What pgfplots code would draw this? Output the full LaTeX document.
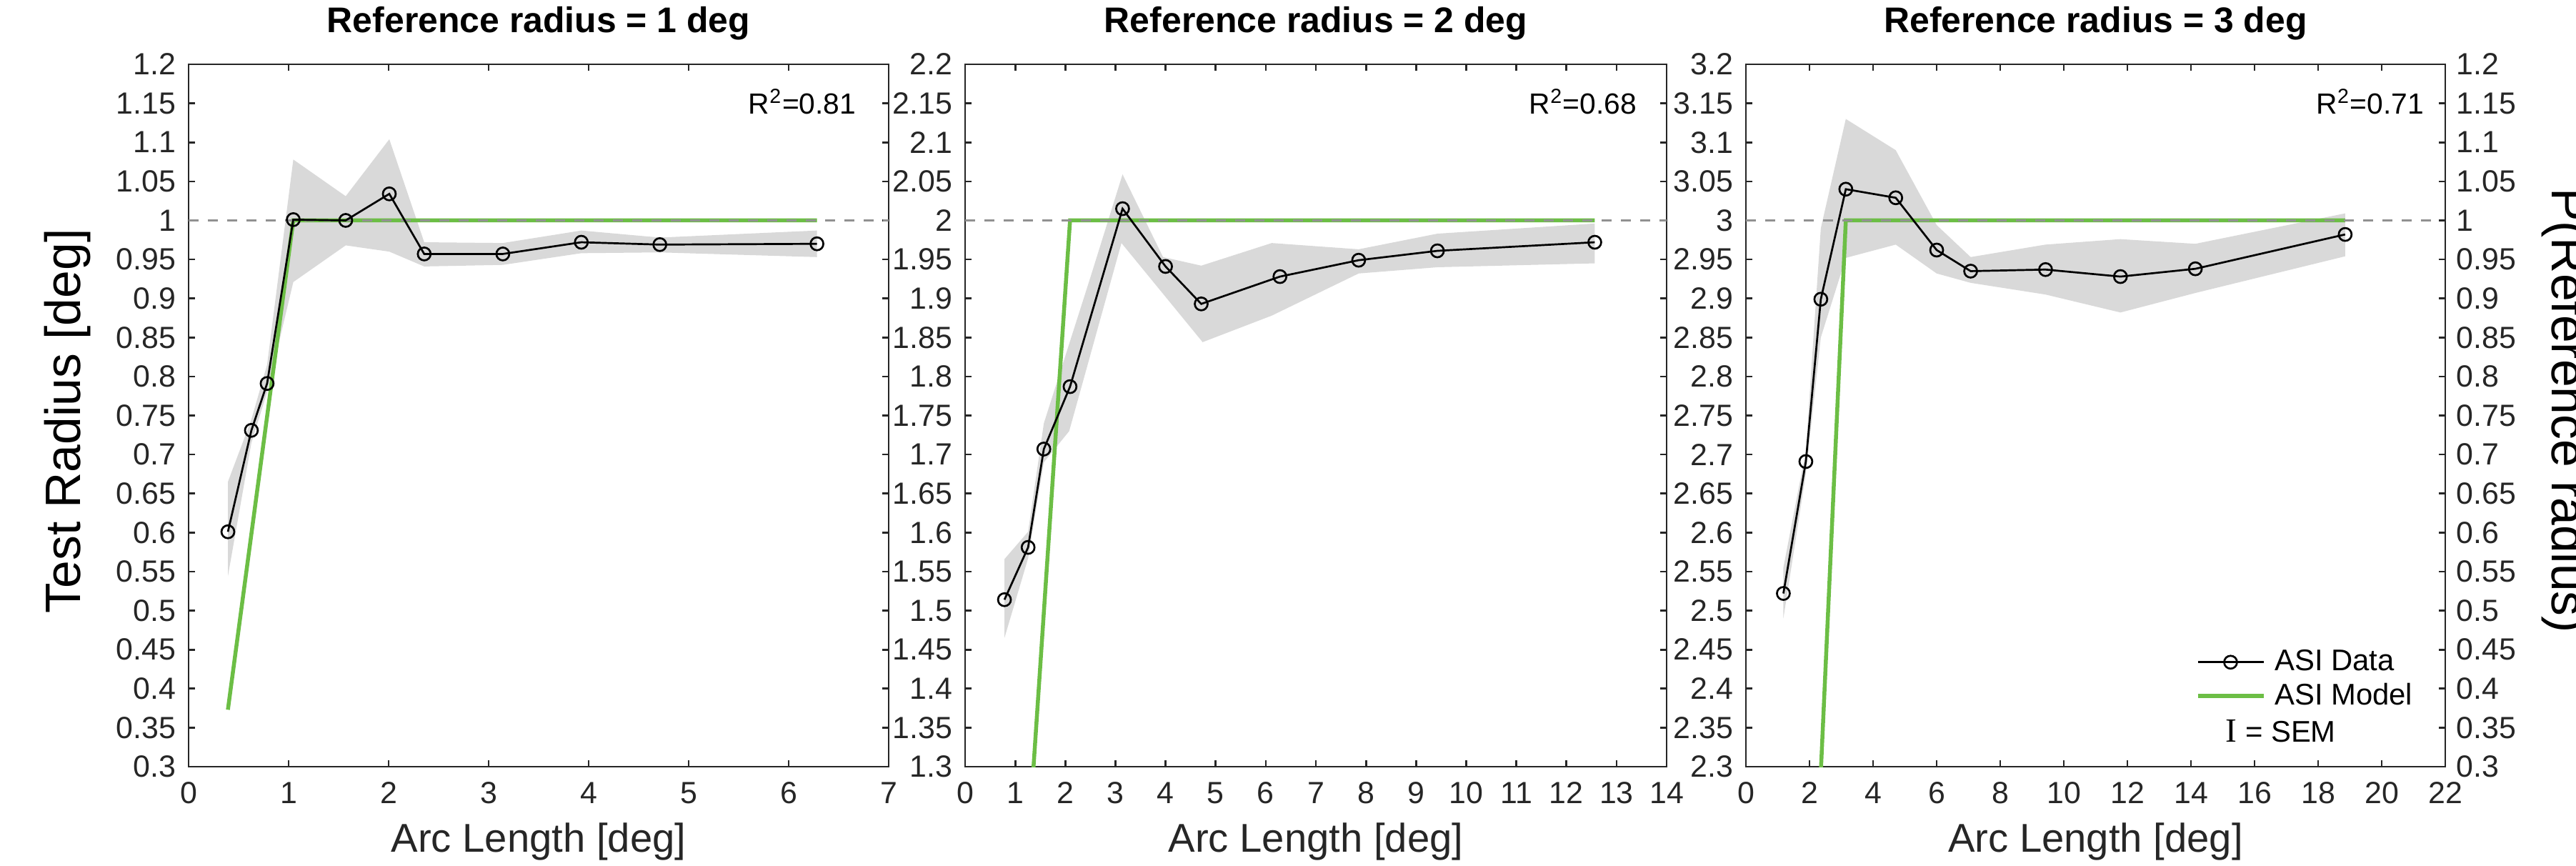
\documentclass[border=0pt]{standalone}
\usepackage{fontspec}
\setmainfont{Liberation Sans}
\newfontfamily\serifI{Liberation Serif}
\usepackage{pgfplots}
\pgfplotsset{compat=1.18}

\definecolor{axgray}{RGB}{38,38,38}
\definecolor{bandgray}{RGB}{217,217,217}
\definecolor{modelgreen}{RGB}{108,190,69}
\definecolor{refgray}{RGB}{145,145,145}

\pgfplotsset{
  panel/.style={
    scale only axis, height=98.3mm, anchor=south west,
    axis line style={axgray, line width=0.27mm},
    tick style={axgray, line width=0.27mm},
    tick align=inside, major tick length=0.9mm,
    xtick pos=both, ytick pos=both, xticklabel pos=lower, yticklabel pos=left,
    ytick distance=0.05,
    tick label style={/pgf/number format/assume math mode=true,
      /pgf/number format/fixed, /pgf/number format/precision=2,
      font=\fontsize{12.2pt}{14pt}\selectfont, text=axgray},
    xticklabel style={inner sep=0pt, yshift=-2.1mm},
    yticklabel style={inner sep=0pt, xshift=-1.7mm},
    title style={font=\bfseries\fontsize{14.2pt}{17pt}\selectfont,
      at={(axis description cs:0.5,1.0234)}, anchor=base, inner sep=0pt},
    xlabel={Arc Length [deg]},
    xlabel style={font=\fontsize{16pt}{19pt}\selectfont, text=axgray,
      at={(axis description cs:0.5,-0.122)}, anchor=base, inner sep=0pt},
    legend image code/.code={
      \draw[mark repeat=2, mark phase=2, #1]
        plot coordinates {(0mm,0mm) (4.6mm,0mm) (9.2mm,0mm)};},
  },
  band/.style={fill=bandgray, draw=none, forget plot},
  model/.style={modelgreen, line width=0.55mm, forget plot},
  refline/.style={refgray, line width=0.33mm, dash pattern=on 1.4mm off 1.3mm, forget plot},
  asidata/.style={black, line width=0.27mm, mark=o, mark size=0.9mm,
    mark options={solid}},
}

\newcommand\rsq[2]{\node[anchor=base east, inner sep=0pt,
  font=\fontsize{11.6pt}{14pt}\selectfont] at (axis description cs:#1,0.929)
  {R\textsuperscript{2}=#2};}

\begin{document}
\begin{tikzpicture}

% ---------- reference radius = 1 ----------
\begin{axis}[panel, at={(26.4mm,13.8mm)}, width=98mm,
  xmin=0, xmax=7, xtick distance=1, ymin=0.3, ymax=1.2,
  title={Reference radius = 1 deg},
  ylabel={Test Radius [deg]},
  ylabel style={font=\fontsize{19.8pt}{23pt}\selectfont,
    at={(axis description cs:-0.155,0.492)}, anchor=base, inner sep=0pt}]
\addplot[band] coordinates {
  (0.393,0.665) (0.628,0.745) (0.785,0.815) (1.047,1.078) (1.571,1.031)
  (2.007,1.104) (2.356,0.972) (3.142,0.971) (3.927,0.987) (4.712,0.978)
  (6.283,0.987)
  (6.283,0.953) (4.712,0.959) (3.927,0.958) (3.142,0.943) (2.356,0.941)
  (2.007,0.960) (1.571,0.968) (1.047,0.921) (0.785,0.780) (0.628,0.715)
  (0.393,0.544)};
\addplot[model] coordinates {(0.393,0.373) (1.047,1.0) (6.283,1.0)};
\addplot[refline] coordinates {(0,1) (7,1)};
\addplot[asidata, forget plot] coordinates {
  (0.393,0.601) (0.628,0.731) (0.785,0.791) (1.047,1.001) (1.571,1.000)
  (2.007,1.034) (2.356,0.957) (3.142,0.957) (3.927,0.972) (4.712,0.969)
  (6.283,0.970)};
\rsq{0.954}{0.81}
\end{axis}

% ---------- reference radius = 2 ----------
\begin{axis}[panel, at={(135.1mm,13.8mm)}, width=98.2mm,
  xmin=0, xmax=14, xtick distance=1, ymin=1.3, ymax=2.2,
  title={Reference radius = 2 deg}]
\addplot[band] coordinates {
  (0.785,1.566) (1.257,1.601) (1.571,1.740) (2.505,1.928) (3.142,2.059)
  (3.950,1.953) (4.712,1.942) (6.120,1.971) (7.854,1.963) (9.425,1.983)
  (12.566,1.996)
  (12.566,1.945) (9.425,1.940) (7.854,1.932) (6.120,1.878) (4.740,1.844)
  (3.120,1.971) (2.077,1.730) (1.571,1.690) (1.257,1.567) (0.785,1.465)};
\addplot[model] coordinates {(1.257,1.196) (2.094,2.0) (12.566,2.0)};
\addplot[refline] coordinates {(0,2) (14,2)};
\addplot[asidata, forget plot] coordinates {
  (0.785,1.514) (1.257,1.581) (1.571,1.707) (2.094,1.787) (3.142,2.015)
  (4.000,1.941) (4.712,1.893) (6.283,1.928) (7.854,1.949) (9.425,1.961)
  (12.566,1.972)};
\rsq{0.958}{0.68}
\end{axis}

% ---------- reference radius = 3 ----------
\begin{axis}[panel, at={(244.4mm,13.8mm)}, width=97.9mm,
  xmin=0, xmax=22, xtick distance=2, ymin=2.3, ymax=3.2,
  title={Reference radius = 3 deg},
  legend style={draw=none, fill=none, inner sep=0pt, column sep=1.3mm,
    row sep=1.2mm, font=\fontsize{11.9pt}{14pt}\selectfont,
    nodes={inner sep=0pt}, legend cell align=left,
    at={(axis description cs:0.6425,0.167)}, anchor=north west}]
\addlegendimage{asidata}
\addlegendentry{ASI Data}
\addlegendimage{modelgreen, line width=0.55mm}
\addlegendentry{ASI Model}
\addplot[band] coordinates {
  (1.178,2.555) (1.885,2.705) (2.356,2.990) (3.142,3.130) (4.712,3.090)
  (6.000,2.994) (7.069,2.953) (9.425,2.969) (11.781,2.976) (14.137,2.970)
  (18.850,3.009)
  (18.850,2.954) (14.137,2.907) (11.781,2.882) (9.425,2.905) (7.069,2.920)
  (6.000,2.932) (4.712,2.969) (3.142,2.952) (2.356,2.850) (1.885,2.675)
  (1.178,2.490)};
\addplot[model] coordinates {(2.356,2.293) (3.142,3.0) (18.850,3.0)};
\addplot[refline] coordinates {(0,3) (22,3)};
\addplot[asidata, forget plot] coordinates {
  (1.178,2.522) (1.885,2.691) (2.356,2.899) (3.142,3.040) (4.712,3.029)
  (6.000,2.962) (7.069,2.935) (9.425,2.937) (11.781,2.928) (14.137,2.938)
  (18.850,2.982)};
\rsq{0.970}{0.71}
\node[anchor=base west, inner sep=0pt, font=\fontsize{11.9pt}{14pt}\selectfont]
  at (axis description cs:0.6854,0.0356)
  {{\serifI\fontsize{13.5pt}{16pt}\selectfont I} = SEM};
\end{axis}

% right-hand scale of the third panel
\begin{axis}[scale only axis, width=97.9mm, height=98.3mm,
  at={(244.4mm,13.8mm)}, anchor=south west,
  xmin=0, xmax=22, ymin=0.3, ymax=1.2, ytick distance=0.05,
  axis x line=none, axis y line*=right,
  axis line style={axgray, line width=0.27mm},
  tick style={axgray, line width=0.27mm},
  tick align=inside, major tick length=0.9mm,
  tick label style={/pgf/number format/assume math mode=true,
    /pgf/number format/fixed, /pgf/number format/precision=2,
    font=\fontsize{12.2pt}{14pt}\selectfont, text=axgray},
  yticklabel style={inner sep=0pt, xshift=1.5mm},
  ylabel={P(Reference radius)},
  ylabel style={font=\fontsize{19.8pt}{23pt}\selectfont,
    at={(axis description cs:1.153,0.507)}, rotate=180, anchor=base, inner sep=0pt}]
\end{axis}

\pgfresetboundingbox
\path[use as bounding box] (0,0) rectangle (360.6mm,121.1mm);
\end{tikzpicture}
\end{document}
